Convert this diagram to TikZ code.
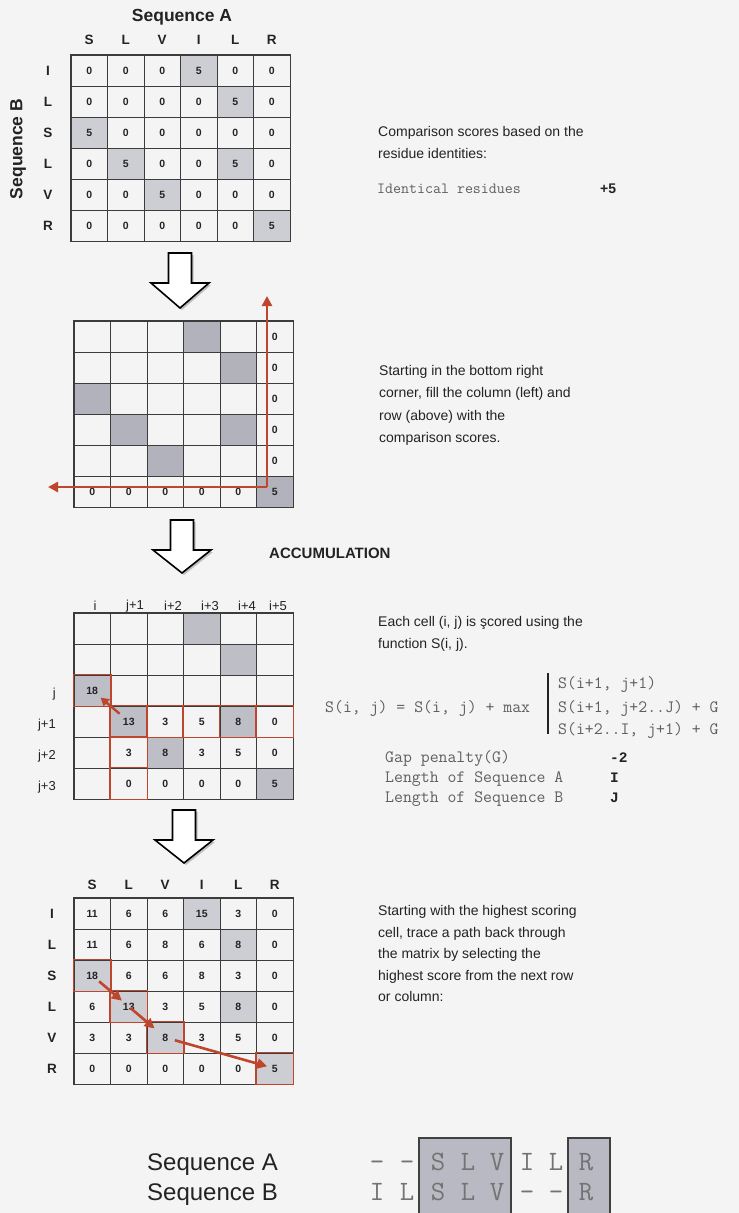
\documentclass[tikz,border=0pt]{standalone}
\usepackage{fontspec}
\setmainfont{Liberation Sans}
\newfontfamily\monobfont{Liberation Mono}
\usetikzlibrary{arrows.meta,calc}
\definecolor{bg}{RGB}{244,244,244}
\definecolor{gridc}{RGB}{60,60,60}
\definecolor{txt}{RGB}{35,35,35}
\definecolor{shA}{RGB}{205,205,212}
\definecolor{shB}{RGB}{178,178,188}
\definecolor{shC}{RGB}{190,190,198}
\definecolor{redc}{RGB}{190,70,45}
\definecolor{monoc}{RGB}{95,95,95}
\definecolor{alnfill}{RGB}{185,185,196}
\newcommand\mkgrid[4]{%
  \foreach \r/\vals in {#4} {
    \foreach \v [count=\c from 0] in \vals {
      \node[cell] (#1-\r-\c) at ({#2+36.5*\c+18.25},{#3+31*\r+15.5}) {\v};
    }
  }
  \draw[outerb] (#1-0-0.north west) rectangle (#1-5-5.south east);
}
\newcommand\mkshade[4]{%
  \foreach \r/\c in {#4} { \fill[#1] ({#2+36.5*\c},{#3+31*\r}) rectangle ++(36.5,31); }
}
\newcommand\hollowarrow[4]{%
  \fill[black!25] ({#1-11.5+2},{#2+2}) -- ({#1+11.5+2},{#2+2}) -- ({#1+11.5+2},{#3+2}) -- ({#1+29+2},{#3+2}) -- ({#1+2},{#4+2}) -- ({#1-29+2},{#3+2}) -- ({#1-11.5+2},{#3+2}) -- cycle;
  \draw[line width=1.6pt,fill=white,line join=miter] ({#1-11.5},{#2}) -- ({#1+11.5},{#2}) -- ({#1+11.5},{#3}) -- ({#1+29},{#3}) -- ({#1},{#4}) -- ({#1-29},{#3}) -- ({#1-11.5},{#3}) -- cycle;
}
\begin{document}
\begin{tikzpicture}[x=1pt,y=-1pt,
  cell/.style={draw=gridc,line width=0.7pt,minimum width=36.5pt,minimum height=31pt,inner sep=0pt,font=\fontsize{10.5}{10.5}\selectfont\bfseries,text=txt},
  outerb/.style={draw=gridc,line width=1.4pt},
  hdr/.style={font=\fontsize{13.5}{13.5}\selectfont\bfseries,text=txt,inner sep=0pt},
  ihdr/.style={font=\fontsize{13}{13}\selectfont,text=txt,inner sep=0pt},
  para/.style={anchor=base west,inner sep=0pt,font=\fontsize{14}{14}\selectfont,text=txt},
  mono/.style={anchor=base west,inner sep=0pt,font=\fontsize{17.3}{17.3}\selectfont\ttfamily,text=monoc},
  monob/.style={anchor=base west,inner sep=0pt,font=\fontsize{14.5}{14.5}\selectfont\monobfont\bfseries,text=txt},
  redbox/.style={draw=redc,line width=1.5pt},
  redarr/.style={draw=redc,line width=2.6pt,-{Triangle[length=10pt,width=10pt]}},
  aln/.style={anchor=base,inner sep=0pt,font=\fontsize{28}{28}\selectfont\ttfamily,text=black!55},
  seq/.style={anchor=base west,inner sep=0pt,font=\fontsize{24}{24}\selectfont,text=txt}
]
\useasboundingbox[fill=bg] (0,0) rectangle (739,1213);

% ---------- Matrix 1 ----------
\node[font=\fontsize{17.5}{17.5}\selectfont\bfseries,text=txt] (seqA) at (182,17) {Sequence A};
\node[font=\fontsize{17.5}{17.5}\selectfont\bfseries,text=txt,rotate=90] (seqB) at (18,149) {Sequence B};
\mkshade{shA}{71}{55}{0/3,1/4,2/0,3/1,3/4,4/2,5/5}
\mkgrid{A}{71}{55}{0/{0,0,0,5,0,0},1/{0,0,0,0,5,0},2/{5,0,0,0,0,0},3/{0,5,0,0,5,0},4/{0,0,5,0,0,0},5/{0,0,0,0,0,5}}
\foreach \t [count=\c from 0] in {S,L,V,I,L,R} { \node[hdr] (hA\c) at ({71+36.5*\c+18.25},40) {\t}; }
\foreach \t [count=\r from 0] in {I,L,S,L,V,R} { \node[hdr] (rA\r) at (48,{55+31*\r+15.5}) {\t}; }

\node[para] (p1a) at (378,136) {Comparison scores based on the};
\node[para] (p1b) at (378,158) {residue identities:};
\node[mono,font=\fontsize{15.5}{15.5}\selectfont\ttfamily] (idr) at (377,193) {Identical residues};
\node[para,font=\fontsize{14}{14}\selectfont\bfseries] (idv) at (600,193) {+5};

\hollowarrow{180}{253}{283}{308}

% ---------- Matrix 2 ----------
\mkshade{shB}{74}{321}{0/3,1/4,2/0,3/1,3/4,4/2,5/5}
\mkgrid{B}{74}{321}{0/{{},{},{},{},{},0},1/{{},{},{},{},{},0},2/{{},{},{},{},{},0},3/{{},{},{},{},{},0},4/{{},{},{},{},{},0},5/{0,0,0,0,0,5}}
\coordinate (bc) at (267,487);
\coordinate (bup) at (267,296);
\coordinate (bleft) at (48,487);
\draw[redarr] (bc) -- (bup);
\draw[redarr] (bc) -- (bleft);

\node[para] (p2a) at (379,375) {Starting in the bottom right};
\node[para] (p2b) at (379,397.5) {corner, fill the column (left) and};
\node[para] (p2c) at (379,420) {row (above) with the};
\node[para] (p2d) at (379,442.5) {comparison scores.};

\hollowarrow{182}{520}{550}{573}
\node[para,font=\fontsize{15}{15}\selectfont\bfseries] (acc) at (269,558) {ACCUMULATION};

% ---------- Matrix 3 ----------
\mkshade{shC}{74}{613}{0/3,1/4,2/0,3/1,3/4,4/2,5/5}
\mkgrid{C}{74}{613}{0/{{},{},{},{},{},{}},1/{{},{},{},{},{},{}},2/{18,{},{},{},{},{}},3/{{},13,3,5,8,0},4/{{},3,8,3,5,0},5/{{},0,0,0,0,5}}
\foreach \t/\x [count=\c from 0] in {i/95,j+1/135,i+2/173,i+3/210,i+4/247,i+5/278} { \node[ihdr] (hC\c) at (\x,606) {\t}; }
\foreach \t [count=\r from 2] in {j,j+1,j+2,j+3} { \node[ihdr,anchor=east] (rC\r) at (56,{613+31*\r+19.5}) {\t}; }
\draw[redbox] (C-2-0.north west) rectangle (C-2-0.south east);
\draw[redbox] (C-3-1.north west) rectangle (C-3-5.south east);
\foreach \c in {2,...,5} { \draw[redbox] (C-3-\c.north west) -- (C-3-\c.south west); }
\draw[redbox] (C-3-1.north west) rectangle (C-5-1.south east);
\foreach \r in {4,5} { \draw[redbox] (C-\r-1.north west) -- (C-\r-1.north east); }
\draw[redarr,line width=2.4pt,-{Triangle[length=8pt,width=9pt]},shorten <=12pt,shorten >=11pt] (C-3-1.center) -- (C-2-0.center);

\node[para] (p3a) at (378,626) {Each cell (i, j) is şcored using the};
\node[para] (p3b) at (378,648) {function S(i, j).};
\node[mono] (eqL) at (325,712) {S(i, j) = S(i, j) + max};
\draw[line width=1.8pt,draw=txt] (548,673) -- (548,734);
\node[mono] (eq1) at (558,688) {S(i+1, j+1)};
\node[mono] (eq2) at (558,712) {S(i+1, j+2..J) + G};
\node[mono] (eq3) at (558,734) {S(i+2..I, j+1) + G};
\node[mono] (g1) at (385,762) {Gap penalty(G)};
\node[mono] (g2) at (385,782) {Length of Sequence A};
\node[mono] (g3) at (385,802) {Length of Sequence B};
\node[monob] (g1v) at (610,762) {-2};
\node[monob] (g2v) at (610,782) {I};
\node[monob] (g3v) at (610,802) {J};

\hollowarrow{184}{810}{840}{863}

% ---------- Matrix 4 ----------
\mkshade{shA}{74}{898}{0/3,1/4,2/0,3/1,3/4,4/2,5/5}
\mkgrid{D}{74}{898}{0/{11,6,6,15,3,0},1/{11,6,8,6,8,0},2/{18,6,6,8,3,0},3/{6,13,3,5,8,0},4/{3,3,8,3,5,0},5/{0,0,0,0,0,5}}
\foreach \t [count=\c from 0] in {S,L,V,I,L,R} { \node[hdr] (hD\c) at ({74+36.5*\c+18.25},885) {\t}; }
\foreach \t [count=\r from 0] in {I,L,S,L,V,R} { \node[hdr] (rD\r) at (52,{898+31*\r+15.5}) {\t}; }
\foreach \r/\c in {2/0,3/1,4/2,5/5} { \draw[redbox] (D-\r-\c.north west) rectangle (D-\r-\c.south east); }
\draw[redarr,shorten <=9pt,shorten >=9pt] (D-2-0.center) -- (D-3-1.center);
\draw[redarr,shorten <=2pt,shorten >=14pt] (D-3-1.center) -- (D-4-2.center);
\draw[redarr,shorten <=10pt,shorten >=8pt] (D-4-2.center) -- (D-5-5.center);

\node[para] (p4a) at (378,915) {Starting with the highest scoring};
\node[para] (p4b) at (378,937) {cell, trace a path back through};
\node[para] (p4c) at (378,958) {the matrix by selecting the};
\node[para] (p4d) at (378,980) {highest score from the next row};
\node[para] (p4e) at (378,1001) {or column:};

% ---------- Alignment ----------
\draw[draw=black!75,fill=alnfill,line width=2.4pt] (419,1138) rectangle (511,1225);
\draw[draw=black!75,fill=alnfill,line width=2.4pt] (568,1138) rectangle (610,1225);
\node[seq] (sa) at (147,1170) {Sequence A};
\node[seq] (sb) at (147,1200) {Sequence B};
\foreach \t/\x [count=\i] in {-/377,-/407,S/438,L/468,V/497,I/527,L/556,R/586} { \node[aln] (a\i) at (\x,1170) {\t}; }
\foreach \t/\x [count=\i] in {I/377,L/407,S/438,L/468,V/497,-/527,-/556,R/586} { \node[aln] (b\i) at (\x,1200) {\t}; }
\end{tikzpicture}
\end{document}
